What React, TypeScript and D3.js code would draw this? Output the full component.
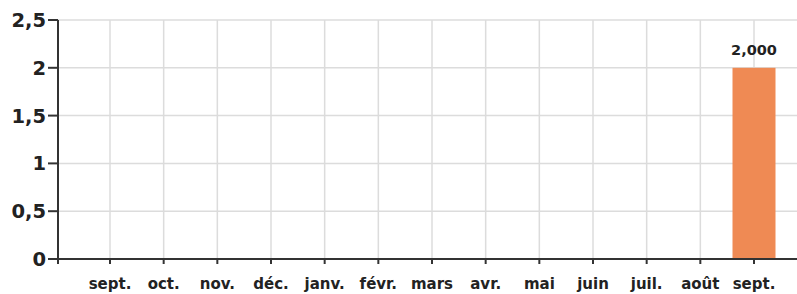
import React from 'react';
import * as d3 from 'd3';

// months shown on the x axis (Sept -> Sept)
const months = ['sept.', 'oct.', 'nov.', 'déc.', 'janv.', 'févr.', 'mars', 'avr.', 'mai', 'juin', 'juil.', 'août', 'sept. '];
const values = [0, 0, 0, 0, 0, 0, 0, 0, 0, 0, 0, 0, 2];
const yTicks = [0, 0.5, 1, 1.5, 2, 2.5];
const yTickLabels = ['0', '0,5', '1', '1,5', '2', '2,5'];

const App = () => {
  const width = 797;
  const height = 294;
  const left = 58;
  const top = 20;
  const bottom = 259;

  const x = d3.scalePoint<string>().domain(months).range([110, 754]);
  const y = d3.scaleLinear().domain([0, 2.5]).range([bottom, top]);
  const barW = 43;
  const font = '"DejaVu Sans", Verdana, sans-serif';

  return (
    <svg width={width} height={height} style={{ position: 'absolute', left: 0, top: 0, background: '#fff' }}>
      {/* horizontal grid */}
      {yTicks.filter(t => t > 0).map(t => (
        <line key={'h' + t} x1={left} x2={width} y1={y(t)} y2={y(t)} stroke="#dcdcdc" strokeWidth={1.5} />
      ))}
      {/* vertical grid */}
      {months.map(m => (
        <line key={'v' + m} x1={x(m)} x2={x(m)} y1={top} y2={bottom} stroke="#dcdcdc" strokeWidth={1.5} />
      ))}
      {/* bars */}
      {values.map((v, i) => v > 0 && (
        <g key={'b' + i}>
          <rect x={x(months[i])! - barW / 2} y={y(v)} width={barW} height={bottom - y(v)} fill="#EF8A54" />
          <text x={x(months[i])} y={y(v) - 13} textAnchor="middle" fontFamily={font} fontWeight="bold" fontSize={14.5} fill="#222">
            {d3.format(',.3f')(v).replace('.', ',')}
          </text>
        </g>
      ))}
      {/* axes */}
      <line x1={left} x2={left} y1={top} y2={bottom + 5} stroke="#333" strokeWidth={2} />
      <line x1={left} x2={width} y1={bottom} y2={bottom} stroke="#333" strokeWidth={2} />
      {yTicks.map((t, i) => (
        <g key={'yt' + t}>
          <line x1={left - 10} x2={left} y1={y(t)} y2={y(t)} stroke="#333" strokeWidth={2} />
          <text x={46} y={y(t)} dy="0.36em" textAnchor="end" fontFamily={font} fontWeight="bold" fontSize={19.5} fill="#222">
            {yTickLabels[i]}
          </text>
        </g>
      ))}
      {months.map(m => (
        <g key={'xt' + m}>
          <line x1={x(m)} x2={x(m)} y1={bottom} y2={bottom + 5} stroke="#333" strokeWidth={2} />
          <text x={x(m)} y={289} textAnchor="middle" fontFamily={font} fontWeight="bold" fontSize={15} fill="#222">
            {m.trim()}
          </text>
        </g>
      ))}
    </svg>
  );
};

export default App;
